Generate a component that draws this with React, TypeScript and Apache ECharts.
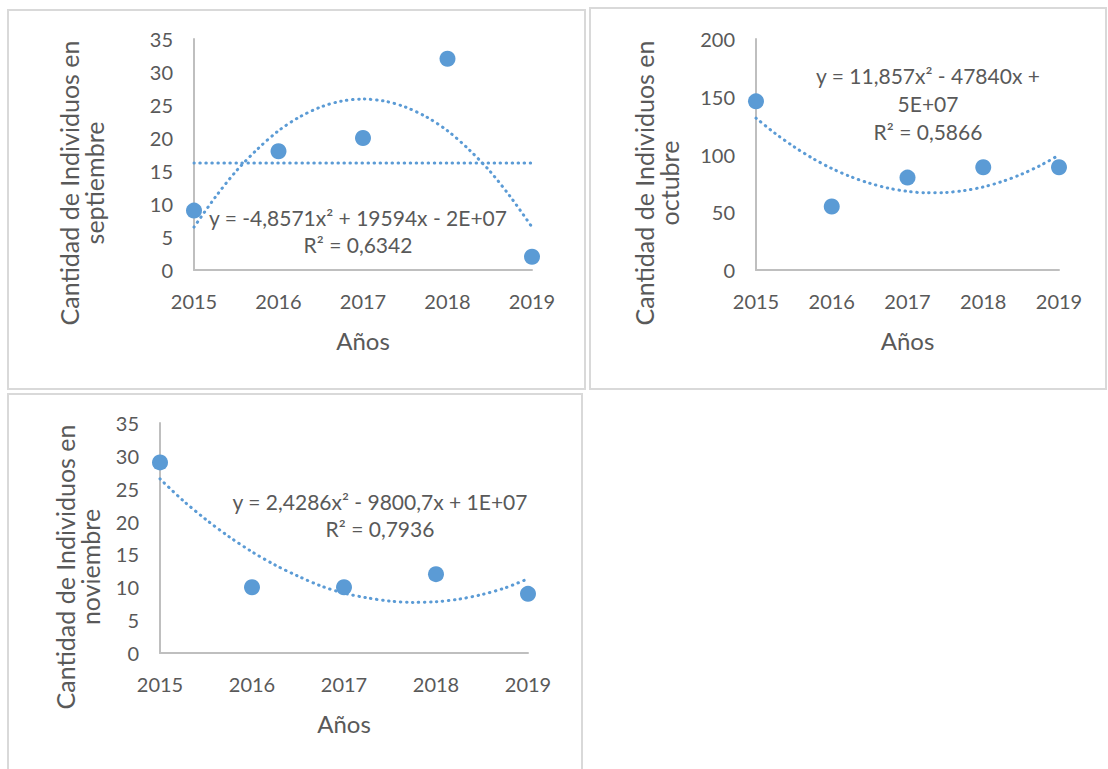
import React, { useEffect, useRef } from "react";
import * as echarts from "echarts";

// ---- Data ----
const years = [2015, 2016, 2017, 2018, 2019];
const septiembre = [9, 18, 20, 32, 2];
const octubre = [146, 55, 80, 89, 89];
const noviembre = [29, 10, 10, 12, 9];

// trend-line values at quarter-year steps
const trendYears = [
  2015, 2015.25, 2015.5, 2015.75, 2016, 2016.25, 2016.5, 2016.75, 2017,
  2017.25, 2017.5, 2017.75, 2018, 2018.25, 2018.5, 2018.75, 2019,
];
const septPoly = [
  6.5, 11.0, 15.0, 18.3, 21.1, 23.2, 24.7, 25.6, 25.9,
  25.6, 24.7, 23.2, 21.1, 18.3, 15.0, 11.0, 6.5,
];
const septLinearYears = [2015, 2019];
const septLinear = [16.2, 16.2];
const octPoly = [
  131.5, 118.4, 106.8, 96.6, 87.9, 80.8, 75.1, 70.8, 68.1,
  66.8, 67.1, 68.8, 71.9, 76.6, 82.8, 90.4, 99.5,
];
const novPoly = [
  26.5, 23.2, 20.3, 17.7, 15.4, 13.4, 11.7, 10.2, 9.1,
  8.4, 7.9, 7.7, 7.8, 8.2, 8.9, 9.9, 11.3,
];

const septTicks = { min: 0, max: 35, interval: 5 };
const octTicks = { min: 0, max: 200, interval: 50 };
const novTicks = { min: 0, max: 35, interval: 5 };

const septTitle = "Cantidad de Individuos en\nseptiembre";
const octTitle = "Cantidad de Individuos en\noctubre";
const novTitle = "Cantidad de Individuos en\nnoviembre";
const xName = "Años";

const septEq = "y = -4,8571x² + 19594x - 2E+07\nR² = 0,6342";
const octEq = "y = 11,857x² - 47840x +\n5E+07\nR² = 0,5866";
const novEq = "y = 2,4286x² - 9800,7x + 1E+07\nR² = 0,7936";

const FONT = "Lato";
const TXT = "#595959";
const AX = "#bfbfbf";
const BLUE = "#5b9bd5";

function pairs(xs: number[], ys: number[]) {
  return xs.map((x, i) => [x, ys[i]]);
}

export default function App() {
  const ref = useRef<HTMLDivElement>(null);
  useEffect(() => {
    if (!ref.current) return;
    const chart = echarts.init(ref.current, undefined, { renderer: "svg" });

    const grids = [
      { left: 194, top: 39, width: 338, height: 231 },
      { left: 756, top: 39, width: 303, height: 231 },
      { left: 160, top: 423, width: 368, height: 230 },
    ];
    const yTicks = [septTicks, octTicks, novTicks];

    const xAxes = grids.map((_, i) => ({
      type: "value",
      gridIndex: i,
      min: 2015,
      max: 2019,
      interval: 1,
      name: xName,
      nameLocation: "middle",
      nameGap: 58,
      nameTextStyle: { color: TXT, fontFamily: FONT, fontSize: 24 },
      axisLine: { show: true, lineStyle: { color: AX, width: 2 } },
      axisTick: { show: false },
      splitLine: { show: false },
      axisLabel: {
        color: TXT,
        fontFamily: FONT,
        fontSize: 20,
        margin: 21,
        formatter: (v: number) => String(v),
      },
    }));
    const yAxes = grids.map((_, i) => ({
      type: "value",
      gridIndex: i,
      min: yTicks[i].min,
      max: yTicks[i].max,
      interval: yTicks[i].interval,
      axisLine: { show: true, lineStyle: { color: AX, width: 2 } },
      axisTick: { show: false },
      splitLine: { show: false },
      axisLabel: { color: TXT, fontFamily: FONT, fontSize: 20, margin: 21 },
    }));

    const dotted = {
      color: BLUE,
      width: 3,
      type: [0.5, 5.5],
      cap: "round",
    };
    const trend = (xi: number, xs: number[], ys: number[]) => ({
      type: "line",
      xAxisIndex: xi,
      yAxisIndex: xi,
      data: pairs(xs, ys),
      smooth: 0.3,
      showSymbol: false,
      symbol: "none",
      lineStyle: dotted,
      silent: true,
      z: 1,
    });
    const scatter = (xi: number, ys: number[]) => ({
      type: "scatter",
      xAxisIndex: xi,
      yAxisIndex: xi,
      data: pairs(years, ys),
      symbolSize: 16,
      itemStyle: { color: BLUE, opacity: 1 },
      z: 3,
    });

    const border = (x: number, y: number, w: number, h: number) => ({
      type: "rect",
      shape: { x, y, width: w, height: h },
      style: { fill: "none", stroke: "#d9d9d9", lineWidth: 2 },
      silent: true,
    });
    const yTitle = (x: number, y: number, text: string) => ({
      type: "text",
      x,
      y,
      rotation: Math.PI / 2,
      style: {
        text,
        fill: TXT,
        font: `25px ${FONT}`,
        align: "center",
        verticalAlign: "middle",
        lineHeight: 25,
      },
    });
    const eq = (x: number, y: number, text: string, lh: number) => ({
      type: "text",
      x,
      y,
      z: 10,
      style: {
        text,
        fill: TXT,
        font: `21px ${FONT}`,
        align: "center",
        verticalAlign: "middle",
        lineHeight: lh,
      },
    });

    chart.setOption({
      animation: false,
      backgroundColor: "#ffffff",
      grid: grids,
      xAxis: xAxes,
      yAxis: yAxes,
      series: [
        trend(0, trendYears, septPoly),
        trend(0, septLinearYears, septLinear),
        scatter(0, septiembre),
        trend(1, trendYears, octPoly),
        scatter(1, octubre),
        trend(2, trendYears, novPoly),
        scatter(2, noviembre),
      ],
      graphic: [
        border(8, 10, 577, 379),
        border(590, 8, 516, 381),
        border(8, 394, 574, 380),
        yTitle(81, 183, septTitle),
        yTitle(656, 183, octTitle),
        yTitle(77, 567, novTitle),
        eq(358, 230.5, septEq, 27),
        eq(928, 103, octEq, 28),
        eq(380, 515, novEq, 27),
      ],
    });
    return () => chart.dispose();
  }, []);
  return (
    <div
      ref={ref}
      style={{ position: "absolute", left: 0, top: 0, width: 1108, height: 769 }}
    />
  );
}
